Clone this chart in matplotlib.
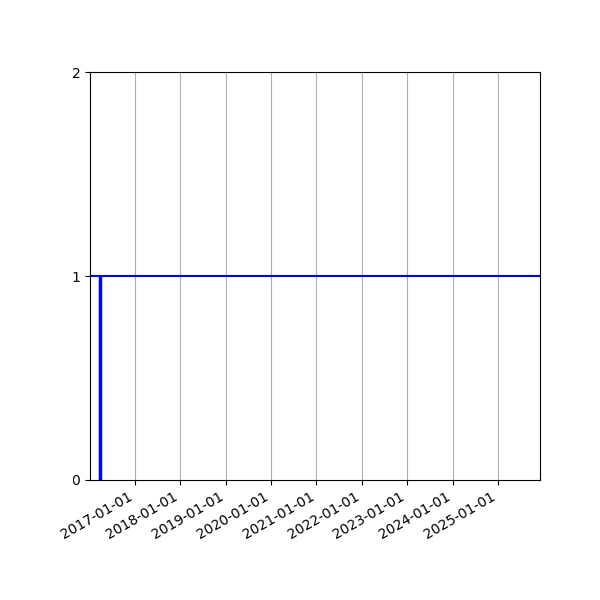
import matplotlib
matplotlib.use("Agg")
import matplotlib.pyplot as plt
import matplotlib.dates as mdates
import numpy as np

# Step start and level
start_date = np.datetime64("2016-03-24")
level = 1
x_range = [np.datetime64("2016-01-05"), np.datetime64("2025-12-05")]
y_ticks = [0, 1, 2]

fig, ax = plt.subplots(figsize=(6, 6), dpi=100)
fig.subplots_adjust(left=0.15, right=0.9, top=0.88, bottom=0.2)

ax.vlines(start_date, 0, level, colors="blue", linewidth=2.5)
ax.axhline(level, color="blue", linewidth=1.5)

ax.set_xlim(x_range)
ax.set_ylim(0, 2)
ax.set_yticks(y_ticks)
ax.xaxis.set_major_locator(mdates.YearLocator())
ax.xaxis.set_major_formatter(mdates.DateFormatter("%Y-%m-%d"))
ax.grid(True, axis="x")
plt.setp(ax.get_xticklabels(), rotation=30, ha="right")

fig.savefig("out.png", dpi=100)
